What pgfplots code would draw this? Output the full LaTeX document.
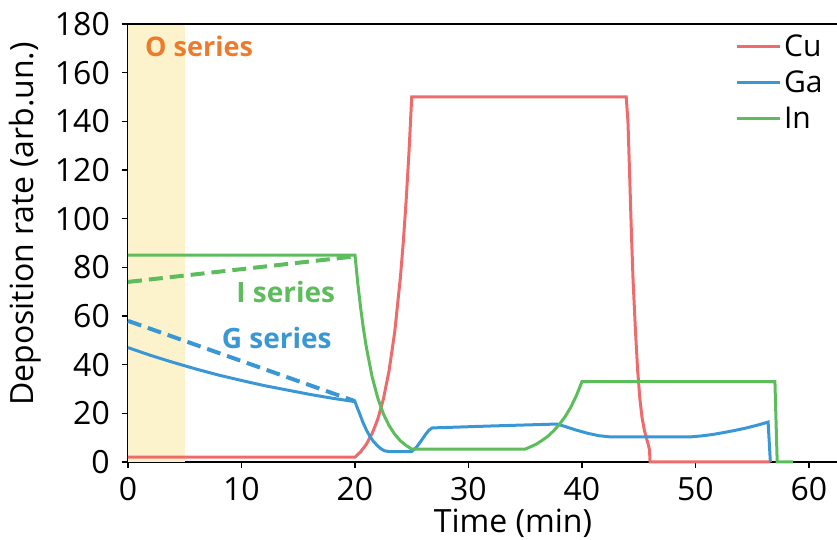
\documentclass[border=0pt]{standalone}
\usepackage{pgfplots}
\pgfplotsset{compat=1.18}
\usepackage{fontspec}
\setmainfont{Open Sans}
\definecolor{cured}{HTML}{EF6B6B}
\definecolor{gablue}{HTML}{3A97D6}
\definecolor{ingreen}{HTML}{5DBD5D}
\definecolor{oorange}{HTML}{EC7C2C}
\definecolor{shade}{HTML}{FCF2CC}
\begin{document}
\begin{tikzpicture}
\begin{axis}[
  scale only axis,
  width=709pt, height=438pt,
  xmin=0, xmax=62.47, ymin=0, ymax=180,
  axis x line*=bottom, axis y line*=left,
  axis line style={line width=1.8pt, black},
  tick align=outside,
  major tick length=6pt,
  every tick/.style={black, line width=1.5pt},
  xtick={0,10,...,60}, ytick={0,20,...,180},
  /pgf/number format/assume math mode=true,
  tick label style={font=\fontsize{32}{38}\selectfont},
  xticklabel style={inner sep=0pt, yshift=-9pt},
  yticklabel style={inner sep=0pt, xshift=-12pt},
  xlabel={Time (min)},
  ylabel={Deposition rate (arb.un.)},
  label style={font=\fontsize{32}{38}\selectfont, inner sep=0pt},
  xlabel style={at={(axis description cs:0.543,0)}, anchor=north, yshift=-47pt},
  ylabel style={at={(axis description cs:-0.1453,0.5434)}, anchor=center},
  clip=false,
  legend style={at={(axis description cs:0.856,0.983)}, anchor=north west, draw=none, fill=none,
    font=\fontsize{30}{36}\selectfont, row sep=7pt, inner sep=0pt,
    nodes={inner sep=3pt}},
  legend cell align=left,
  legend image code/.code={\draw[#1, line width=3pt] (0pt,0pt) -- (43pt,0pt);},
]
\addplot[fill=shade, draw=none, forget plot] coordinates {(0,180) (5,180)} \closedcycle;
\draw[line width=1.8pt] (axis description cs:0,1) -- (axis description cs:1,1);

\addplot[cured, line width=3pt] coordinates {
(0,2)(20,2)(20.5,4.2)(21,7.3)(21.5,11.6)(22,17.5)(22.5,25.8)(23,37.4)(23.5,53.4)(24,75.8)(24.25,90)(24.5,106.8)(24.75,126.6)(25,150)
(43.9,150)(44.05,140)(44.2,118)(44.35,95)(44.5,75)(44.7,55)(44.9,38)(45.1,26)(45.3,18)(45.5,13)(45.7,9.5)(45.85,7)(45.95,5)(46,0)(56.6,0)};
\addlegendentry{Cu}
\addplot[gablue, line width=3pt] coordinates {
(0,47)(2,43.8)(4,40.9)(6,38.2)(8,35.7)(10,33.5)(12,31.4)(14,29.6)(16,27.8)(18,26.2)(20,24.8)
(20.2,22.3)(20.4,20)(20.7,16.3)(21,13.2)(21.3,10.6)(21.6,8.6)(22,6.6)(22.3,5.4)(22.6,4.6)(23,4.3)
(25,4.3)(25.4,6)(25.8,8.5)(26.2,11.2)(26.5,13)(26.8,14)(32,14.8)(37.8,15.6)
(38.5,14.6)(39.5,13.1)(40.5,11.8)(41.5,10.8)(42.5,10.3)(49.5,10.3)
(50.5,10.7)(51.5,11.3)(52.5,12.1)(53.5,13)(54.5,14)(55.5,15.2)(56.4,16.4)(56.6,0)};
\addlegendentry{Ga}
\addplot[ingreen, line width=3pt] coordinates {
(0,85)(20,85)(20.25,73.3)(20.5,63.3)(20.75,54.6)(21,47.2)(21.5,35.2)(22,26.4)(22.5,19.8)(23,15)(23.5,11.4)(24,8.7)(24.5,6.8)(25,5.3)
(35,5.3)(35.5,6.3)(36,7.4)(36.5,8.9)(37,10.6)(37.5,12.8)(38,15.4)(38.5,18.5)(39,22.4)(39.5,27.2)(40,33)(57,33)(57.2,0)(58.6,0)};
\addlegendentry{In}
\addplot[gablue, line width=4pt, dash pattern=on 14pt off 7pt, forget plot] coordinates {(0,58)(20,25)};
\addplot[ingreen, line width=4pt, dash pattern=on 14pt off 7pt, forget plot] coordinates {(0,74)(20,84.5)};

\node[anchor=west, text=oorange, font=\fontsize{27}{32}\selectfont\bfseries, inner sep=0pt] at (axis cs:1.5,170.6) {O series};
\node[text=ingreen, font=\fontsize{28}{33}\selectfont\bfseries, inner sep=0pt] at (axis cs:13.9,70) {I series};
\node[text=gablue, font=\fontsize{28}{33}\selectfont\bfseries, inner sep=0pt] at (axis cs:13.1,51) {G series};
\end{axis}
\pgfresetboundingbox
\path[use as bounding box] ([xshift=-128pt,yshift=-78pt]current axis.south west) rectangle ([yshift=24pt]current axis.north east);
\end{tikzpicture}
\end{document}
